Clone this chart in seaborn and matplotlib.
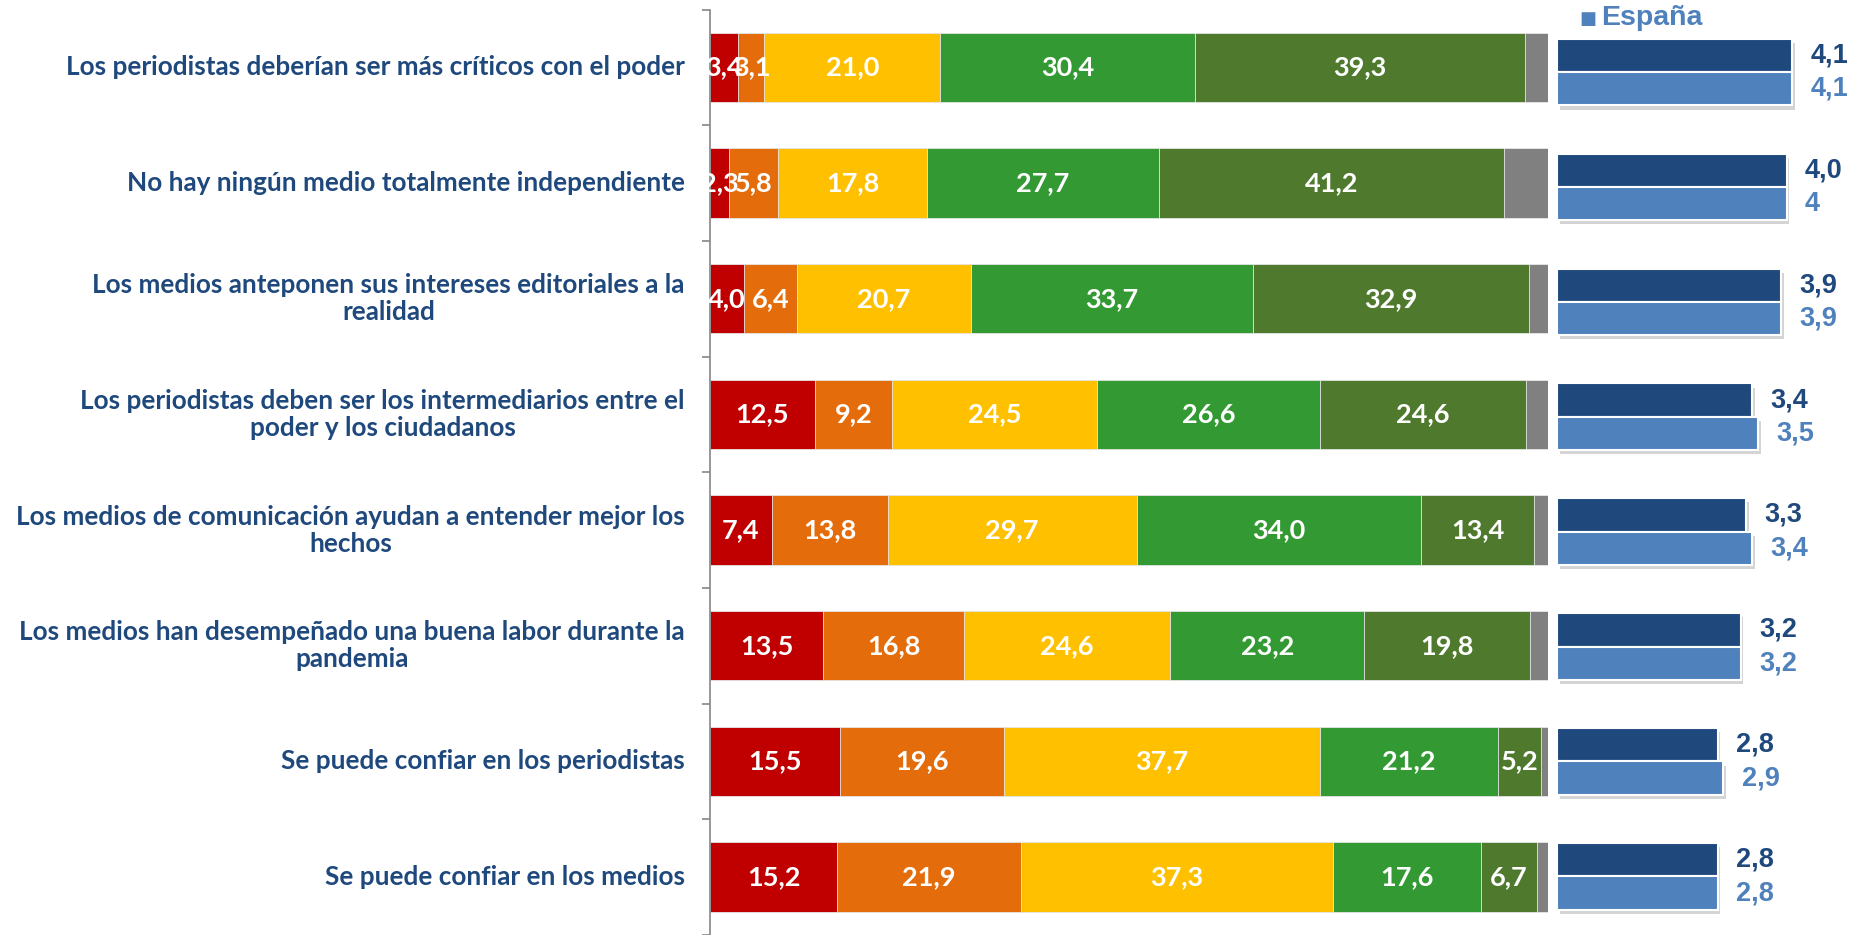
import numpy as np
import pandas as pd
import matplotlib
matplotlib.use("Agg")
import matplotlib.pyplot as plt
import matplotlib.patheffects as pe
import seaborn as sns

categories = [
    "Los periodistas deberían ser más críticos con el poder",
    "No hay ningún medio totalmente independiente",
    "Los medios anteponen sus intereses editoriales a la\nrealidad",
    "Los periodistas deben ser los intermediarios entre el\npoder y los ciudadanos",
    "Los medios de comunicación ayudan a entender mejor los\nhechos",
    "Los medios han desempeñado una buena labor durante la\npandemia",
    "Se puede confiar en los periodistas",
    "Se puede confiar en los medios",
]

seg1 = [3.4, 2.3, 4.0, 12.5, 7.4, 13.5, 15.5, 15.2]
seg2 = [3.1, 5.8, 6.4, 9.2, 13.8, 16.8, 19.6, 21.9]
seg3 = [21.0, 17.8, 20.7, 24.5, 29.7, 24.6, 37.7, 37.3]
seg4 = [30.4, 27.7, 33.7, 26.6, 34.0, 23.2, 21.2, 17.6]
seg5 = [39.3, 41.2, 32.9, 24.6, 13.4, 19.8, 5.2, 6.7]
seg_nsnc = [2.8, 5.2, 2.3, 2.6, 1.7, 2.1, 0.8, 1.3]

mean_region = [4.1, 4.0, 3.9, 3.4, 3.3, 3.2, 2.8, 2.8]
mean_spain = [4.1, 4.0, 3.9, 3.5, 3.4, 3.2, 2.9, 2.8]
mean_region_labels = ["4,1", "4,0", "3,9", "3,4", "3,3", "3,2", "2,8", "2,8"]
mean_spain_labels = ["4,1", "4", "3,9", "3,5", "3,4", "3,2", "2,9", "2,8"]
series_names = ["Región", "España"]

seg_colors = ["#C00000", "#E46C0A", "#FFC000", "#339933", "#4F7A2E", "#808080"]
dark_blue = "#1F497D"
light_blue = "#4F81BD"

sns.set_style("white")
plt.rcParams["font.family"] = ["Lato", "DejaVu Sans"]

W, H = 1852, 935
fig = plt.figure(figsize=(W / 100, H / 100), dpi=100)

# ---------- stacked bars ----------
ax = fig.add_axes([710 / W, 0, (1548 - 710) / W, (H - 9.5) / H])
segs = [seg1, seg2, seg3, seg4, seg5, seg_nsnc]
cum = np.cumsum(np.array(segs), axis=0)
for k in range(len(segs) - 1, -1, -1):
    df = pd.DataFrame({"cat": categories, "val": cum[k]})
    sns.barplot(data=df, x="val", y="cat", orient="h", color=seg_colors[k],
                width=0.6, ax=ax, saturation=1, edgecolor="#E8E8E8", linewidth=0.6)

for k in range(5):
    for i in range(len(categories)):
        v = segs[k][i]
        ax.text(cum[k][i] - v / 2, i, f"{v:.1f}".replace(".", ","), ha="center", va="center",
                color="white", fontsize=19.5, fontweight="bold", zorder=5)

ax.set_xlim(0, 100)
ax.set_ylim(7.5, -0.5)
ax.set_xlabel("")
ax.set_ylabel("")
ax.set_xticks([])
ax.set_yticks(np.arange(-0.5, 8.0, 1.0))
ax.set_yticklabels([])
ax.tick_params(axis="y", length=6, width=1.2, color="#868686", direction="out", left=True)
for s in ["top", "right", "bottom"]:
    ax.spines[s].set_visible(False)
ax.spines["left"].set_color("#868686")
ax.spines["left"].set_linewidth(1.2)

for i, lab in enumerate(categories):
    ax.text(-3.0, i, lab, ha="right", va="center", multialignment="center",
            color=dark_blue, fontsize=18.8, fontweight="bold", linespacing=1.15)

# ---------- means ----------
top_px = 14.6
ax2 = fig.add_axes([1557 / W, (H - top_px - 8 * 114.9) / H, (W - 1557) / W, 8 * 114.9 / H])
dfm = pd.DataFrame({
    "cat": categories * 2,
    "val": mean_region + mean_spain,
    "serie": [series_names[0]] * 8 + [series_names[1]] * 8,
})
sns.barplot(data=dfm, x="val", y="cat", hue="serie", orient="h", ax=ax2,
            palette=[dark_blue, light_blue], width=0.58, saturation=1,
            edgecolor="white", linewidth=1.5, legend=False)
for p in ax2.patches:
    p.set_path_effects([pe.SimplePatchShadow(offset=(2, -3), alpha=0.25, shadow_rgbFace="#555555"), pe.Normal()])
ax2.set_xlim(0, (W - 1557) / 57.4)
ax2.set_ylim(7.5, -0.5)
ax2.axis("off")
off = 0.145
for i in range(8):
    ax2.text(mean_region[i] + 0.32, i - off, mean_region_labels[i], ha="left", va="center",
             color=dark_blue, fontsize=19.5, fontweight="bold", family=["Liberation Sans", "DejaVu Sans"])
    ax2.text(mean_spain[i] + 0.32, i + off, mean_spain_labels[i], ha="left", va="center",
             color=light_blue, fontsize=19.5, fontweight="bold", family=["Liberation Sans", "DejaVu Sans"])

# legend (only España visible)
fig.text(1579 / W, 1 - 19 / H, "■", color=light_blue, fontsize=13, va="center", ha="left",
         family=["DejaVu Sans"])
fig.text(1601 / W, 1 - 18 / H, series_names[1], color=light_blue, fontsize=20.5, fontweight="bold",
         va="center", ha="left", family=["Liberation Sans", "DejaVu Sans"])

fig.savefig("out.png", dpi=100)
